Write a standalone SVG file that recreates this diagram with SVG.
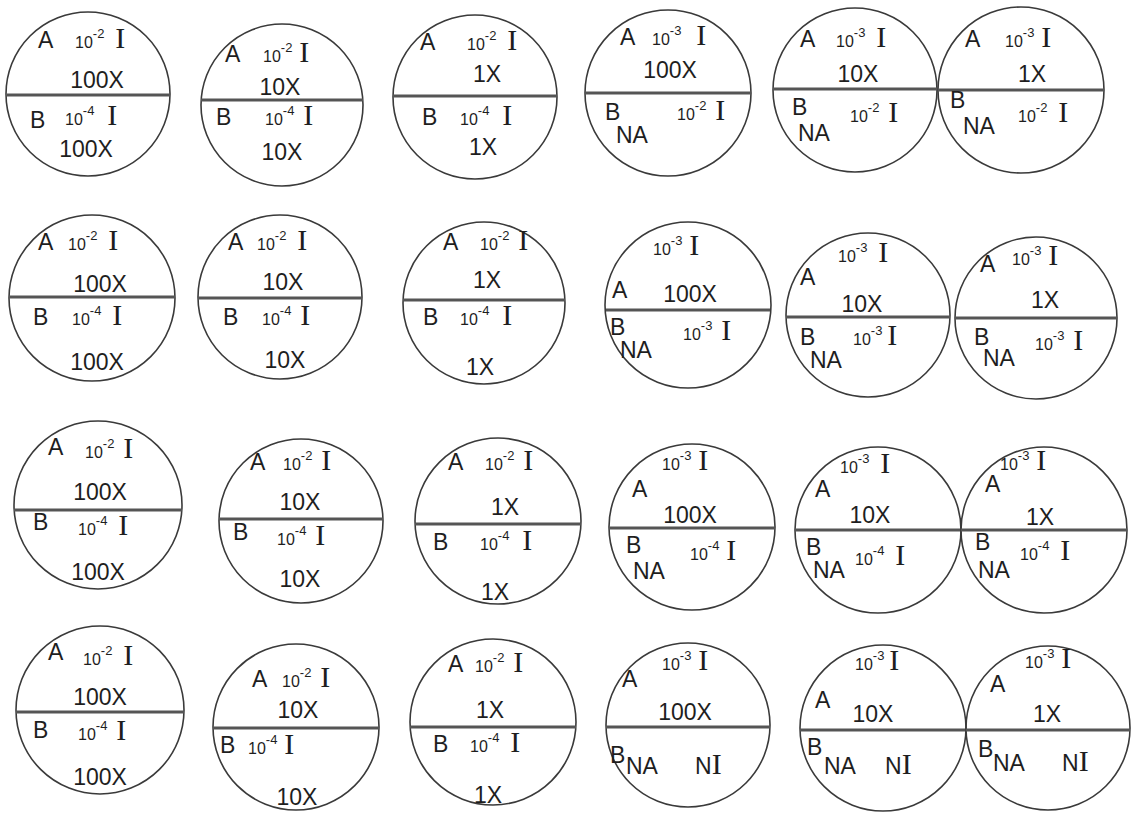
<svg xmlns="http://www.w3.org/2000/svg" width="1134" height="815" viewBox="0 0 1134 815">
<style>
.c{fill:none;stroke:#3a3a3a;stroke-width:1.6}
.d{stroke:#555555;stroke-width:3}
text{font-family:"Liberation Sans",Arial,sans-serif;fill:#1e1e1e}
.L{font-size:23px}
.M{font-size:23px}
.s{font-size:16px}
.p{font-size:13px}
.I{font-size:30px;font-family:"Liberation Serif","Times New Roman",serif}
</style>
<rect width="1134" height="815" fill="#ffffff"/>
<g id="c1"><circle class="c" cx="88" cy="94" r="82"/><line class="d" x1="7" y1="95" x2="170" y2="95"/>
<text class="L" x="38" y="48">A</text><text x="75" y="48"><tspan class="s">10</tspan><tspan class="p" dy="-10">-2</tspan><tspan class="I" dy="10" dx="11">I</tspan></text>
<text class="M" x="97" y="88" text-anchor="middle">100X</text>
<text class="L" x="30" y="128">B</text><text x="65" y="125"><tspan class="s">10</tspan><tspan class="p" dy="-10">-4</tspan><tspan class="I" dy="10" dx="13">I</tspan></text>
<text class="M" x="86" y="157" text-anchor="middle">100X</text></g>
<g id="c2"><circle class="c" cx="282" cy="105" r="81"/><line class="d" x1="201" y1="100" x2="363" y2="100"/>
<text class="L" x="225" y="62">A</text><text x="263" y="62"><tspan class="s">10</tspan><tspan class="p" dy="-10">-2</tspan><tspan class="I" dy="10" dx="7">I</tspan></text>
<text class="M" x="280" y="95" text-anchor="middle">10X</text>
<text class="L" x="216" y="125">B</text><text x="265" y="125"><tspan class="s">10</tspan><tspan class="p" dy="-10">-4</tspan><tspan class="I" dy="10" dx="9">I</tspan></text>
<text class="M" x="282" y="160" text-anchor="middle">10X</text></g>
<g id="c3"><circle class="c" cx="475" cy="97" r="82"/><line class="d" x1="393" y1="96" x2="557" y2="96"/>
<text class="L" x="420" y="50">A</text><text x="467" y="50"><tspan class="s">10</tspan><tspan class="p" dy="-10">-2</tspan><tspan class="I" dy="10" dx="11">I</tspan></text>
<text class="M" x="487" y="82" text-anchor="middle">1X</text>
<text class="L" x="422" y="125">B</text><text x="460" y="125"><tspan class="s">10</tspan><tspan class="p" dy="-10">-4</tspan><tspan class="I" dy="10" dx="13">I</tspan></text>
<text class="M" x="483" y="155" text-anchor="middle">1X</text></g>
<g id="c4"><circle class="c" cx="668" cy="93" r="83"/><line class="d" x1="585" y1="93" x2="751" y2="93"/>
<text class="L" x="620" y="45">A</text><text x="652" y="45"><tspan class="s">10</tspan><tspan class="p" dy="-10">-3</tspan><tspan class="I" dy="10" dx="15">I</tspan></text>
<text class="M" x="670" y="78" text-anchor="middle">100X</text>
<text class="L" x="605" y="120">B</text><text x="677" y="120"><tspan class="s">10</tspan><tspan class="p" dy="-10">-2</tspan><tspan class="I" dy="10" dx="9">I</tspan></text>
<text class="L" x="616" y="143">NA</text></g>
<g id="c5"><circle class="c" cx="855" cy="90" r="82"/><line class="d" x1="773" y1="89" x2="937" y2="89"/>
<text class="L" x="800" y="47">A</text><text x="836" y="47"><tspan class="s">10</tspan><tspan class="p" dy="-10">-3</tspan><tspan class="I" dy="10" dx="11">I</tspan></text>
<text class="M" x="858" y="82" text-anchor="middle">10X</text>
<text class="L" x="792" y="115">B</text><text x="850" y="122"><tspan class="s">10</tspan><tspan class="p" dy="-10">-2</tspan><tspan class="I" dy="10" dx="9">I</tspan></text>
<text class="L" x="798" y="141">NA</text></g>
<g id="c6"><circle class="c" cx="1021" cy="90" r="83"/><line class="d" x1="938" y1="90" x2="1104" y2="90"/>
<text class="L" x="965" y="47">A</text><text x="1005" y="47"><tspan class="s">10</tspan><tspan class="p" dy="-10">-3</tspan><tspan class="I" dy="10" dx="7">I</tspan></text>
<text class="M" x="1032" y="82" text-anchor="middle">1X</text>
<text class="L" x="950" y="108">B</text><text x="1018" y="122"><tspan class="s">10</tspan><tspan class="p" dy="-10">-2</tspan><tspan class="I" dy="10" dx="11">I</tspan></text>
<text class="L" x="963" y="134">NA</text></g>
<g id="c7"><circle class="c" cx="92" cy="298" r="83"/><line class="d" x1="9" y1="297" x2="175" y2="297"/>
<text class="L" x="38" y="250">A</text><text x="68" y="250"><tspan class="s">10</tspan><tspan class="p" dy="-10">-2</tspan><tspan class="I" dy="10" dx="11">I</tspan></text>
<text class="M" x="100" y="292" text-anchor="middle">100X</text>
<text class="L" x="33" y="325">B</text><text x="72" y="325"><tspan class="s">10</tspan><tspan class="p" dy="-10">-4</tspan><tspan class="I" dy="10" dx="11">I</tspan></text>
<text class="M" x="97" y="370" text-anchor="middle">100X</text></g>
<g id="c8"><circle class="c" cx="280" cy="297" r="82"/><line class="d" x1="198" y1="298" x2="362" y2="298"/>
<text class="L" x="228" y="250">A</text><text x="257" y="250"><tspan class="s">10</tspan><tspan class="p" dy="-10">-2</tspan><tspan class="I" dy="10" dx="11">I</tspan></text>
<text class="M" x="283" y="290" text-anchor="middle">10X</text>
<text class="L" x="223" y="325">B</text><text x="262" y="325"><tspan class="s">10</tspan><tspan class="p" dy="-10">-4</tspan><tspan class="I" dy="10" dx="9">I</tspan></text>
<text class="M" x="285" y="368" text-anchor="middle">10X</text></g>
<g id="c9"><circle class="c" cx="484" cy="303" r="81"/><line class="d" x1="403" y1="300" x2="565" y2="300"/>
<text class="L" x="443" y="250">A</text><text x="480" y="250"><tspan class="s">10</tspan><tspan class="p" dy="-10">-2</tspan><tspan class="I" dy="10" dx="9">I</tspan></text>
<text class="M" x="487" y="288" text-anchor="middle">1X</text>
<text class="L" x="423" y="325">B</text><text x="460" y="325"><tspan class="s">10</tspan><tspan class="p" dy="-10">-4</tspan><tspan class="I" dy="10" dx="13">I</tspan></text>
<text class="M" x="480" y="375" text-anchor="middle">1X</text></g>
<g id="c10"><circle class="c" cx="688" cy="305" r="83"/><line class="d" x1="606" y1="310" x2="770" y2="310"/>
<text x="653" y="255"><tspan class="s">10</tspan><tspan class="p" dy="-10">-3</tspan><tspan class="I" dy="10" dx="7">I</tspan></text>
<text class="L" x="612" y="298">A</text>
<text class="M" x="690" y="302" text-anchor="middle">100X</text>
<text class="L" x="610" y="335">B</text><text class="L" x="620" y="358">NA</text>
<text x="683" y="340"><tspan class="s">10</tspan><tspan class="p" dy="-10">-3</tspan><tspan class="I" dy="10" dx="9">I</tspan></text></g>
<g id="c11"><circle class="c" cx="868" cy="315" r="82"/><line class="d" x1="786" y1="317" x2="950" y2="317"/>
<text x="838" y="262"><tspan class="s">10</tspan><tspan class="p" dy="-10">-3</tspan><tspan class="I" dy="10" dx="11">I</tspan></text>
<text class="L" x="800" y="285">A</text>
<text class="M" x="862" y="312" text-anchor="middle">10X</text>
<text class="L" x="800" y="345">B</text><text class="L" x="810" y="368">NA</text>
<text x="853" y="345"><tspan class="s">10</tspan><tspan class="p" dy="-10">-3</tspan><tspan class="I" dy="10" dx="5">I</tspan></text></g>
<g id="c12"><circle class="c" cx="1036" cy="318" r="81"/><line class="d" x1="955" y1="318" x2="1117" y2="318"/>
<text class="L" x="980" y="272">A</text><text x="1012" y="265"><tspan class="s">10</tspan><tspan class="p" dy="-10">-3</tspan><tspan class="I" dy="10" dx="7">I</tspan></text>
<text class="M" x="1045" y="308" text-anchor="middle">1X</text>
<text class="L" x="974" y="345">B</text><text class="L" x="983" y="366">NA</text>
<text x="1035" y="350"><tspan class="s">10</tspan><tspan class="p" dy="-10">-3</tspan><tspan class="I" dy="10" dx="9">I</tspan></text></g>
<g id="c13"><circle class="c" cx="98" cy="505" r="84"/><line class="d" x1="14" y1="510" x2="182" y2="510"/>
<text class="L" x="48" y="455">A</text><text x="85" y="458"><tspan class="s">10</tspan><tspan class="p" dy="-10">-2</tspan><tspan class="I" dy="10" dx="9">I</tspan></text>
<text class="M" x="100" y="500" text-anchor="middle">100X</text>
<text class="L" x="33" y="530">B</text><text x="78" y="535"><tspan class="s">10</tspan><tspan class="p" dy="-10">-4</tspan><tspan class="I" dy="10" dx="11">I</tspan></text>
<text class="M" x="98" y="580" text-anchor="middle">100X</text></g>
<g id="c14"><circle class="c" cx="301" cy="521" r="82"/><line class="d" x1="219" y1="519" x2="383" y2="519"/>
<text class="L" x="250" y="470">A</text><text x="283" y="470"><tspan class="s">10</tspan><tspan class="p" dy="-10">-2</tspan><tspan class="I" dy="10" dx="9">I</tspan></text>
<text class="M" x="300" y="510" text-anchor="middle">10X</text>
<text class="L" x="233" y="540">B</text><text x="277" y="545"><tspan class="s">10</tspan><tspan class="p" dy="-10">-4</tspan><tspan class="I" dy="10" dx="9">I</tspan></text>
<text class="M" x="300" y="587" text-anchor="middle">10X</text></g>
<g id="c15"><circle class="c" cx="498" cy="521" r="83"/><line class="d" x1="415" y1="524" x2="581" y2="524"/>
<text class="L" x="448" y="470">A</text><text x="485" y="470"><tspan class="s">10</tspan><tspan class="p" dy="-10">-2</tspan><tspan class="I" dy="10" dx="9">I</tspan></text>
<text class="M" x="505" y="515" text-anchor="middle">1X</text>
<text class="L" x="433" y="550">B</text><text x="480" y="550"><tspan class="s">10</tspan><tspan class="p" dy="-10">-4</tspan><tspan class="I" dy="10" dx="13">I</tspan></text>
<text class="M" x="495" y="600" text-anchor="middle">1X</text></g>
<g id="c16"><circle class="c" cx="692" cy="527" r="83"/><line class="d" x1="609" y1="528" x2="775" y2="528"/>
<text x="662" y="470"><tspan class="s">10</tspan><tspan class="p" dy="-10">-3</tspan><tspan class="I" dy="10" dx="7">I</tspan></text>
<text class="L" x="632" y="497">A</text>
<text class="M" x="690" y="523" text-anchor="middle">100X</text>
<text class="L" x="626" y="553">B</text><text class="L" x="633" y="579">NA</text>
<text x="690" y="560"><tspan class="s">10</tspan><tspan class="p" dy="-10">-4</tspan><tspan class="I" dy="10" dx="7">I</tspan></text></g>
<g id="c17"><circle class="c" cx="878" cy="530" r="83"/><line class="d" x1="795" y1="530" x2="961" y2="530"/>
<text x="840" y="473"><tspan class="s">10</tspan><tspan class="p" dy="-10">-3</tspan><tspan class="I" dy="10" dx="11">I</tspan></text>
<text class="L" x="815" y="497">A</text>
<text class="M" x="870" y="523" text-anchor="middle">10X</text>
<text class="L" x="806" y="555">B</text><text class="L" x="813" y="578">NA</text>
<text x="855" y="565"><tspan class="s">10</tspan><tspan class="p" dy="-10">-4</tspan><tspan class="I" dy="10" dx="11">I</tspan></text></g>
<g id="c18"><circle class="c" cx="1044" cy="530" r="83"/><line class="d" x1="961" y1="530" x2="1127" y2="530"/>
<text x="1000" y="470"><tspan class="s">10</tspan><tspan class="p" dy="-10">-3</tspan><tspan class="I" dy="10" dx="7">I</tspan></text>
<text class="L" x="985" y="492">A</text>
<text class="M" x="1040" y="525" text-anchor="middle">1X</text>
<text class="L" x="975" y="550">B</text><text class="L" x="978" y="578">NA</text>
<text x="1020" y="560"><tspan class="s">10</tspan><tspan class="p" dy="-10">-4</tspan><tspan class="I" dy="10" dx="11">I</tspan></text></g>
<g id="c19"><circle class="c" cx="100" cy="710" r="84"/><line class="d" x1="16" y1="712" x2="184" y2="712"/>
<text class="L" x="48" y="660">A</text><text x="83" y="665"><tspan class="s">10</tspan><tspan class="p" dy="-10">-2</tspan><tspan class="I" dy="10" dx="11">I</tspan></text>
<text class="M" x="100" y="705" text-anchor="middle">100X</text>
<text class="L" x="33" y="738">B</text><text x="78" y="740"><tspan class="s">10</tspan><tspan class="p" dy="-10">-4</tspan><tspan class="I" dy="10" dx="9">I</tspan></text>
<text class="M" x="100" y="785" text-anchor="middle">100X</text></g>
<g id="c20"><circle class="c" cx="296" cy="727" r="83"/><line class="d" x1="213" y1="728" x2="379" y2="728"/>
<text class="L" x="252" y="687">A</text><text x="282" y="687"><tspan class="s">10</tspan><tspan class="p" dy="-10">-2</tspan><tspan class="I" dy="10" dx="9">I</tspan></text>
<text class="M" x="298" y="718" text-anchor="middle">10X</text>
<text class="L" x="220" y="753">B</text><text x="248" y="754"><tspan class="s">10</tspan><tspan class="p" dy="-10">-4</tspan><tspan class="I" dy="10" dx="7">I</tspan></text>
<text class="M" x="297" y="805" text-anchor="middle">10X</text></g>
<g id="c21"><circle class="c" cx="493" cy="722" r="83"/><line class="d" x1="410" y1="727" x2="576" y2="727"/>
<text class="L" x="448" y="672">A</text><text x="475" y="672"><tspan class="s">10</tspan><tspan class="p" dy="-10">-2</tspan><tspan class="I" dy="10" dx="9">I</tspan></text>
<text class="M" x="490" y="718" text-anchor="middle">1X</text>
<text class="L" x="433" y="752">B</text><text x="470" y="752"><tspan class="s">10</tspan><tspan class="p" dy="-10">-4</tspan><tspan class="I" dy="10" dx="11">I</tspan></text>
<text class="M" x="488" y="803" text-anchor="middle">1X</text></g>
<g id="c22"><circle class="c" cx="688" cy="725" r="82"/><line class="d" x1="606" y1="727" x2="770" y2="727"/>
<text x="662" y="670"><tspan class="s">10</tspan><tspan class="p" dy="-10">-3</tspan><tspan class="I" dy="10" dx="7">I</tspan></text>
<text class="L" x="622" y="687">A</text>
<text class="M" x="685" y="720" text-anchor="middle">100X</text>
<text class="L" x="610" y="763">B</text><text class="L" x="626" y="774">NA</text><text class="L" x="695" y="774">N<tspan class="I">I</tspan></text></g>
<g id="c23"><circle class="c" cx="883" cy="728" r="83"/><line class="d" x1="800" y1="730" x2="966" y2="730"/>
<text x="855" y="670"><tspan class="s">10</tspan><tspan class="p" dy="-10">-3</tspan><tspan class="I" dy="10" dx="5">I</tspan></text>
<text class="L" x="815" y="708">A</text>
<text class="M" x="873" y="722" text-anchor="middle">10X</text>
<text class="L" x="807" y="755">B</text><text class="L" x="824" y="774">NA</text><text class="L" x="885" y="774">N<tspan class="I">I</tspan></text></g>
<g id="c24"><circle class="c" cx="1048" cy="728" r="82"/><line class="d" x1="966" y1="730" x2="1130" y2="730"/>
<text x="1025" y="668"><tspan class="s">10</tspan><tspan class="p" dy="-10">-3</tspan><tspan class="I" dy="10" dx="7">I</tspan></text>
<text class="L" x="990" y="692">A</text>
<text class="M" x="1047" y="722" text-anchor="middle">1X</text>
<text class="L" x="978" y="757">B</text><text class="L" x="993" y="771">NA</text><text class="L" x="1062" y="771">N<tspan class="I">I</tspan></text></g>
</svg>
